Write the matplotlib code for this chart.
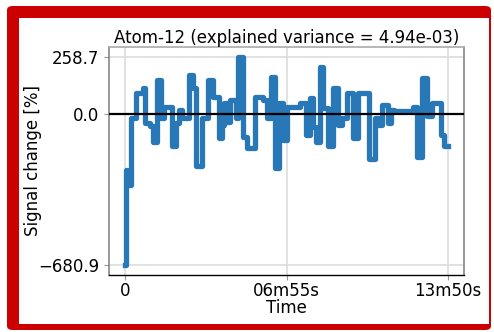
"""
Atom-12 time course — signal change over the run, stepped.
"""

import numpy as np
import matplotlib
matplotlib.use('Agg')
import matplotlib.pyplot as plt
from matplotlib.patches import FancyBboxPatch, Rectangle

# Step onsets (seconds) and level held from each onset (% signal change)
times = [0, 2.6, 5, 10, 13, 15, 28, 46, 51, 64, 72, 82, 93, 100, 121, 131,
         139, 146, 164, 175, 182, 198, 213, 226, 242, 249, 254, 262, 270,
         285, 290, 303, 314, 334, 355, 365, 375, 386, 396, 406, 416, 450,
         465, 475, 483, 491, 501, 509, 522, 535, 547, 558, 571, 586, 599,
         627, 643, 650, 660, 676, 684, 691, 740, 750, 763, 776, 789, 812,
         820, 830]
values = [-680.9, -254, -322, -254, -318, -14, 95, 118, -41, -54, -123, 154,
          -14, 32, -141, -41, 18, -18, 177, 118, -232, -14, 154, 77, -109,
          -50, 50, -36, 64, -14, 258.7, -104, -150, 77, 64, -14, 168, -241,
          50, -118, 32, 50, -95, 73, -59, -127, 213, 27, -141, 118, -50, -14,
          95, -109, 95, -200, -14, -50, 41, -41, 18, 14, 32, -195, 163, -5,
          54, -95, -141, -141]

title = 'Atom-12 (explained variance = 4.94e-03)'
xtick_vals = [0, 415, 830]
xtick_labels = ['0', '06m55s', '13m50s']

W, H = 494, 332
fig = plt.figure(figsize=(W / 100, H / 100), dpi=100)

# red frame around the whole figure
fig.patches.append(FancyBboxPatch((7 / W, 1 - 330 / H), 484 / W, 324 / H,
                                  boxstyle='round,pad=0,rounding_size=0.012',
                                  transform=fig.transFigure, facecolor='#cc0000',
                                  edgecolor='none', zorder=-3))
fig.patches.append(Rectangle((19 / W, 1 - 324 / H), 470 / W, 306 / H,
                             transform=fig.transFigure, facecolor='white',
                             edgecolor='none', zorder=-2))

ax = fig.add_axes([109 / W, 1 - 275 / H, 355 / W, 228 / H])
ax.set_facecolor('none')

ax.plot(times, values, drawstyle='steps-post', color='#2878b8', linewidth=3.8,
        zorder=3)
ax.axhline(0, color='black', linewidth=1.6, zorder=4)

vmin, vmax = min(values), max(values)
ax.set_yticks([vmin, 0, vmax])
ax.set_yticklabels([f'{v:.1f}'.replace('-', '\u2212') for v in (vmin, 0.0, vmax)])
ax.set_xticks(xtick_vals)
ax.set_xticklabels(xtick_labels)

ax.grid(True, color='#dddddd', linewidth=1.2)
ax.set_axisbelow(True)
ax.tick_params(labelsize=12, length=3.5, color='#999999')
ax.tick_params(axis='x', pad=1.5)

for side in ['left', 'right', 'top']:
    ax.spines[side].set_color('#888888')
    ax.spines[side].set_linewidth(1.2)
ax.spines['top'].set_color('#aaaaaa')
ax.spines['bottom'].set_color('black')
ax.spines['bottom'].set_linewidth(1.0)

ax.set_title(title, fontsize=12, pad=3)
ax.set_xlabel('Time', fontsize=12, labelpad=-1)
ax.set_ylabel('Signal change [%]', fontsize=12)
ax.yaxis.set_label_coords(-0.19, 0.5)

fig.savefig('out.png', dpi=100)
